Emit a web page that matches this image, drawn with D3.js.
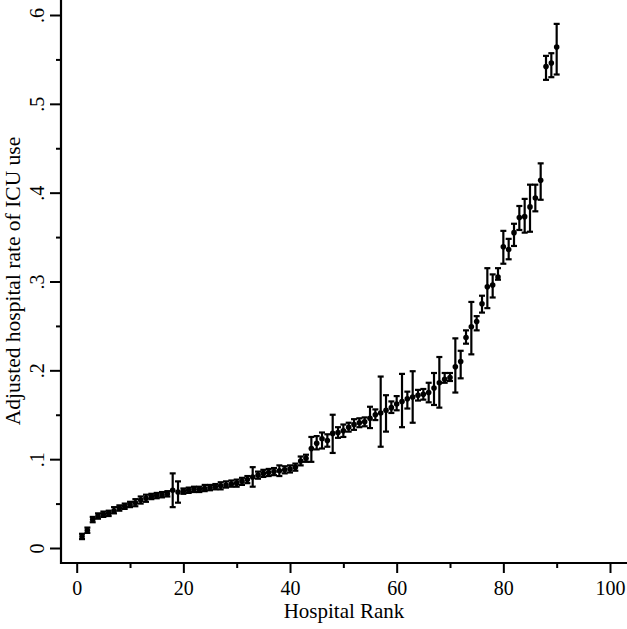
<!DOCTYPE html>
<meta charset="utf-8">
<style>
body { margin: 0; background: #fff; }
text { font-family: "Liberation Serif", "Times New Roman", serif; fill: #000; }
.bars line { stroke: #000; stroke-width: 2.2px; }
</style>
<svg width="627" height="629"></svg>
<script src="https://d3js.org/d3.v7.min.js"></script>
<script>

// hospital ranks and adjusted ICU rates with 95% limits
var ranks = [1,2,3,4,5,6,7,8,9,10,11,12,13,14,15,16,17,18,19,20,
  21,22,23,24,25,26,27,28,29,30,31,32,33,34,35,36,37,38,39,40,
  41,42,43,44,45,46,47,48,49,50,51,52,53,54,55,56,57,58,59,60,
  61,62,63,64,65,66,67,68,69,70,71,72,73,74,75,76,77,78,79,80,
  81,82,83,84,85,86,87,88,89,90];

var rate = [.013,.020,.032,.036,.038,.039,.042,.045,.047,.049,
  .051,.054,.056,.058,.059,.060,.061,.065,.063,.064,
  .065,.066,.066,.067,.068,.069,.070,.071,.072,.073,
  .075,.077,.080,.082,.084,.085,.086,.087,.088,.089,
  .091,.098,.101,.112,.118,.123,.121,.129,.130,.132,
  .136,.139,.141,.142,.146,.150,.152,.155,.158,.162,
  .165,.168,.170,.172,.173,.175,.180,.186,.190,.192,
  .204,.210,.237,.249,.255,.275,.294,.296,.305,.339,
  .336,.355,.372,.373,.384,.394,.414,.542,.546,.564];

var lower = [.010,.017,.029,.033,.035,.036,.039,.042,.044,.046,
  .047,.050,.052,.055,.056,.057,.058,.046,.051,.061,
  .062,.063,.063,.064,.065,.066,.066,.068,.069,.069,
  .071,.073,.069,.078,.080,.081,.082,.081,.084,.085,
  .087,.093,.097,.097,.111,.112,.114,.107,.124,.125,
  .131,.133,.136,.137,.135,.144,.114,.131,.152,.155,
  .136,.157,.141,.166,.167,.164,.161,.158,.186,.188,
  .175,.191,.230,.218,.245,.265,.270,.282,.302,.320,
  .325,.340,.358,.355,.356,.379,.392,.527,.530,.533];

var upper = [.016,.023,.035,.039,.041,.042,.046,.048,.050,.052,
  .055,.058,.060,.061,.062,.063,.064,.084,.075,.067,
  .068,.069,.069,.071,.071,.072,.074,.075,.076,.077,
  .079,.081,.091,.086,.088,.089,.090,.093,.092,.093,
  .095,.103,.105,.125,.126,.130,.128,.150,.136,.139,
  .141,.145,.146,.147,.159,.156,.193,.172,.165,.171,
  .196,.176,.199,.178,.179,.186,.197,.215,.197,.197,
  .236,.222,.245,.277,.261,.284,.315,.308,.315,.357,
  .348,.365,.385,.393,.409,.409,.433,.554,.557,.590];

var xTicks = [0, 20, 40, 60, 80, 100];
var xMinor = [10, 30, 50, 70, 90];
var yTicks = [0, .1, .2, .3, .4, .5, .6];
var yMinor = [.05, .15, .25, .35, .45, .55];

var hospitals = ranks.map(function(r, i) {
  return {rank: r, rate: rate[i], lo: lower[i], hi: upper[i]};
});

var svg = d3.select("svg");

svg.append("rect")
   .attr("width", "100%")
   .attr("height", "100%")
   .attr("fill", "#fff");

var axisX = 61, axisY = 563;

var x = d3.scaleLinear().domain([0, 100]).range([76.7, 610]);
var y = d3.scaleLinear().domain([0, .6]).range([548, 15]);

var fmt = function(d) { return d === 0 ? "0" : d3.format(".1f")(d).replace(/^0/, ""); };

// y axis
var gy = svg.append("g").attr("transform", "translate(" + axisX + ",0)");
gy.append("g")
  .call(d3.axisLeft(y).tickValues(yMinor).tickSize(5).tickFormat(""));
gy.append("g")
  .call(d3.axisLeft(y).tickValues(yTicks).tickSize(11).tickFormat(fmt))
  .call(function(g) {
    g.selectAll("text")
     .attr("transform", "rotate(-90)")
     .attr("x", 0).attr("y", -17).attr("dy", null)
     .attr("text-anchor", "middle")
     .attr("font-size", "20px")
     .attr("font-family", "Liberation Serif");
  });
gy.selectAll("path.domain").remove();
gy.append("line")
  .attr("x1", 0).attr("x2", 0).attr("y1", 0).attr("y2", axisY + 1)
  .attr("stroke", "#000").attr("stroke-width", 2.2);
gy.selectAll(".tick line").attr("stroke-width", 2);

// x axis
var gx = svg.append("g").attr("transform", "translate(0," + axisY + ")");
gx.append("g")
  .call(d3.axisBottom(x).tickValues(xMinor).tickSize(5).tickFormat(""));
gx.append("g")
  .call(d3.axisBottom(x).tickValues(xTicks).tickSize(10))
  .call(function(g) {
    g.selectAll("text")
     .attr("y", 32).attr("dy", null)
     .attr("font-size", "20px")
     .attr("font-family", "Liberation Serif");
  });
gx.selectAll("path.domain").remove();
gx.append("line")
  .attr("x1", axisX - 1).attr("x2", 627).attr("y1", 0).attr("y2", 0)
  .attr("stroke", "#000").attr("stroke-width", 2.2);
gx.selectAll(".tick line").attr("stroke-width", 2);

// axis titles
svg.append("text")
   .attr("x", 344).attr("y", 618)
   .attr("text-anchor", "middle")
   .attr("font-size", "21px")
   .text("Hospital Rank");

svg.append("text")
   .attr("transform", "translate(20,281) rotate(-90)")
   .attr("text-anchor", "middle")
   .attr("font-size", "21.5px")
   .text("Adjusted hospital rate of ICU use");

// error bars
var cap = 3;
var bars = svg.append("g").attr("class", "bars")
  .selectAll("g")
  .data(hospitals)
  .enter().append("g");

bars.append("line")
    .attr("x1", function(d) { return x(d.rank); })
    .attr("x2", function(d) { return x(d.rank); })
    .attr("y1", function(d) { return y(d.lo); })
    .attr("y2", function(d) { return y(d.hi); });
bars.append("line")
    .attr("x1", function(d) { return x(d.rank) - cap; })
    .attr("x2", function(d) { return x(d.rank) + cap; })
    .attr("y1", function(d) { return y(d.lo); })
    .attr("y2", function(d) { return y(d.lo); });
bars.append("line")
    .attr("x1", function(d) { return x(d.rank) - cap; })
    .attr("x2", function(d) { return x(d.rank) + cap; })
    .attr("y1", function(d) { return y(d.hi); })
    .attr("y2", function(d) { return y(d.hi); });

// points
svg.append("g")
   .selectAll("circle")
   .data(hospitals)
   .enter().append("circle")
   .attr("cx", function(d) { return x(d.rank); })
   .attr("cy", function(d) { return y(d.rate); })
   .attr("r", 2.8)
   .attr("fill", "#000");

</script>
